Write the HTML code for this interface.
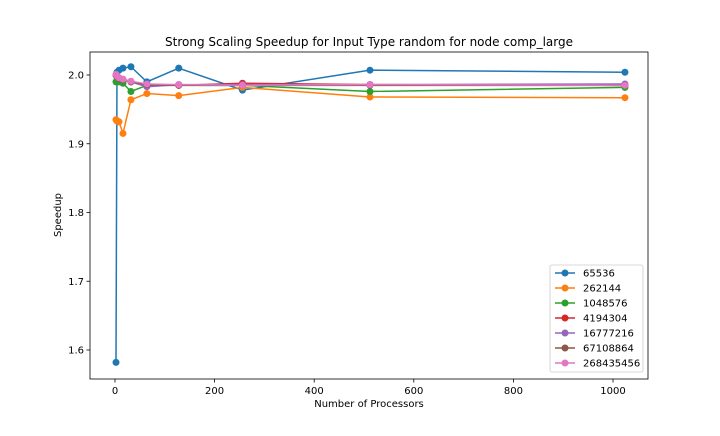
<!DOCTYPE html>
<html><head><meta charset="utf-8"><style>
body{margin:0;background:#fff;font-family:"DejaVu Sans","Liberation Sans",sans-serif}
svg text{font-family:"DejaVu Sans","Liberation Sans",sans-serif;fill:#000}
</style></head><body>
<svg id="chart" width="720" height="432" xmlns="http://www.w3.org/2000/svg">
<rect width="720" height="432" fill="#fff"/>
<g id="plot"></g>
</svg>
<script>
const xValues=[2,4,8,16,32,64,128,256,512,1024];
const seriesNames=["65536","262144","1048576","4194304","16777216","67108864","268435456"];
const s65536=[1.582,2.004,2.007,2.010,2.012,1.990,2.010,1.978,2.007,2.004];
const s262144=[1.935,1.933,1.932,1.915,1.964,1.973,1.970,1.982,1.968,1.967];
const s1048576=[1.990,1.992,1.990,1.988,1.976,1.985,1.985,1.985,1.976,1.982];
const s4194304=[2.000,1.998,1.995,1.993,1.990,1.986,1.985,1.988,1.986,1.985];
const s16777216=[2.000,1.997,1.995,1.993,1.990,1.983,1.986,1.986,1.986,1.987];
const s67108864=[2.000,1.998,1.995,1.993,1.990,1.986,1.985,1.985,1.985,1.985];
const s268435456=[2.001,1.999,1.996,1.994,1.991,1.987,1.986,1.985,1.986,1.985];
const xTicks=[0,200,400,600,800,1000];
const yTicks=[1.6,1.7,1.8,1.9,2.0];
const colors=["#1f77b4","#ff7f0e","#2ca02c","#d62728","#9467bd","#8c564b","#e377c2"];
const allSeries=[s65536,s262144,s1048576,s4194304,s16777216,s67108864,s268435456];
const L=90,R=648,T=52,B=379;
const xs=v=>115+v*0.498;
const ys=v=>75+(2.0-v)*687.5;
const NS="http://www.w3.org/2000/svg";
const g=document.getElementById('plot');
function mk(t,a,p){const e=document.createElementNS(NS,t);for(const k in a)e.setAttribute(k,a[k]);(p||g).appendChild(e);return e;}
const frame=mk('rect',{x:L,y:T,width:R-L,height:B-T,fill:'none',stroke:'#000','stroke-width':0.8});


xTicks.forEach(v=>{const x=xs(v);
const l=mk('line',{x1:x,x2:x,y1:B,y2:B+3.5,stroke:'#000','stroke-width':0.8});


const t=mk('text',{x:x,y:B+15,'text-anchor':'middle','font-size':10});t.textContent=v;

});
yTicks.forEach(v=>{const y=ys(v);
const l=mk('line',{x1:L-3.5,x2:L,y1:y,y2:y,stroke:'#000','stroke-width':0.8});


const t=mk('text',{x:L-6,y:y+3.5,'text-anchor':'end','font-size':10});t.textContent=v.toFixed(1);

});
allSeries.forEach((s,i)=>{
const grp=mk('g',{});


mk('polyline',{points:s.map((v,j)=>xs(xValues[j])+','+ys(v)).join(' '),fill:'none',stroke:colors[i],'stroke-width':1.5},grp);
s.forEach((v,j)=>{const c=mk('circle',{cx:xs(xValues[j]),cy:ys(v),r:3.5,fill:colors[i]},grp);

});
});
const title=mk('text',{x:369,y:46,'text-anchor':'middle','font-size':12});
title.textContent='Strong Scaling Speedup for Input Type random for node comp_large';


const xt=mk('text',{x:369,y:407,'text-anchor':'middle','font-size':10});
xt.textContent='Number of Processors';


const yt=mk('text',{x:0,y:0,'text-anchor':'middle','font-size':10,transform:'translate(61,215) rotate(-90)'});
yt.textContent='Speedup';


const lg=mk('g',{});


mk('rect',{x:550,y:265,width:93,height:107,rx:2,fill:'#fff',stroke:'#ccc','stroke-width':0.8},lg);
seriesNames.forEach((n,i)=>{const y=273+i*15;
const e=mk('g',{},lg);


mk('line',{x1:555,x2:575,y1:y,y2:y,stroke:colors[i],'stroke-width':1.5},e);
mk('circle',{cx:565,cy:y,r:3.5,fill:colors[i]},e);
const t=mk('text',{x:583,y:y+3.5,'font-size':10},e);t.textContent=n;});
</script>
</body></html>
